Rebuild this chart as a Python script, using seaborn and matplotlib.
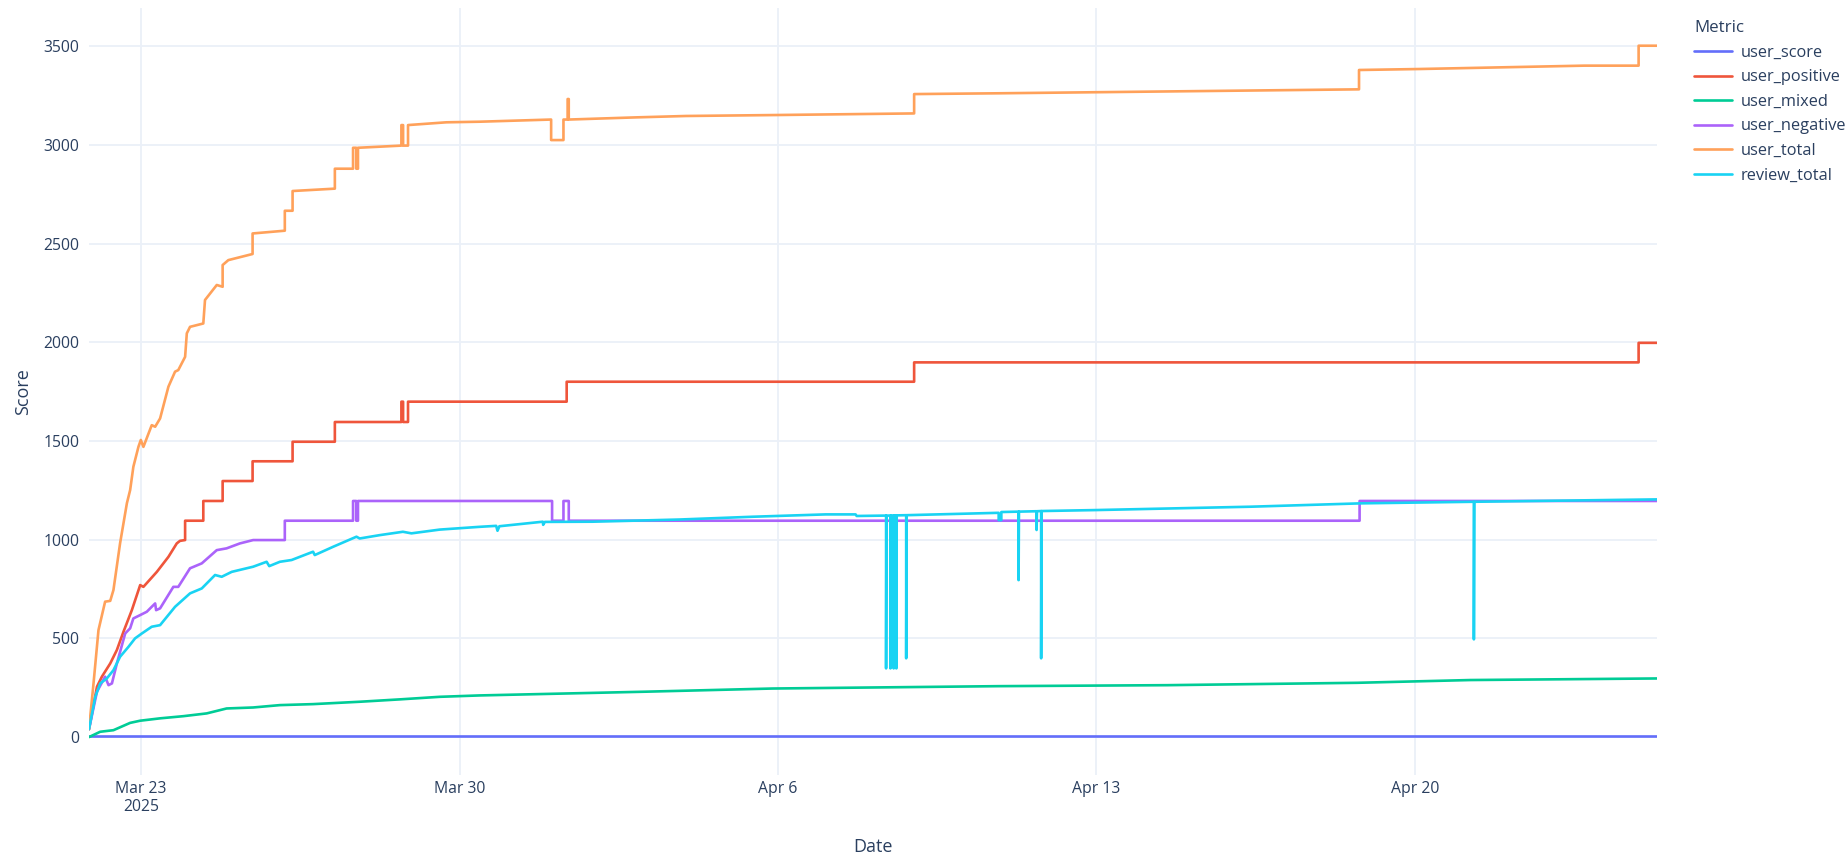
import numpy as np
import pandas as pd
import seaborn as sns
import matplotlib.pyplot as plt
import matplotlib.dates as mdates

# series (times in 2025, "MM-DD HH:MM")
metrics = ["user_score", "user_positive", "user_mixed", "user_negative", "user_total", "review_total"]
colors = ["#636efa", "#EF553B", "#00cc96", "#ab63fa", "#FFA15A", "#19d3f3"]

score_t = ["03-21 20:30", "04-25 07:42"]
score_v = [6, 6]

positive_t = ["03-21 20:30", "03-22 00:42", "03-22 03:18", "03-22 07:42", "03-22 11:12", "03-22 14:42",
              "03-22 19:06", "03-22 23:30", "03-23 01:12", "03-23 08:18", "03-23 14:24", "03-23 18:48",
              "03-23 20:30", "03-23 23:12", "03-23 23:12", "03-24 08:48", "03-24 08:48", "03-24 19:00",
              "03-24 19:00", "03-25 10:48", "03-25 10:48", "03-26 07:54", "03-26 07:54", "03-27 06:12",
              "03-27 06:12", "03-28 17:18", "03-28 17:18", "03-28 18:12", "03-28 18:12", "03-28 20:48",
              "03-28 20:48", "04-01 08:30", "04-01 08:30", "04-08 23:48", "04-08 23:48", "04-24 22:00",
              "04-24 22:00", "04-25 07:42"]
positive_v = [40, 255, 306, 373, 441, 534,
              643, 770, 761, 837, 913, 981,
              994, 998, 1096, 1096, 1196, 1196,
              1297, 1297, 1397, 1397, 1496, 1496,
              1596, 1596, 1699, 1699, 1596, 1596,
              1699, 1699, 1800, 1800, 1898, 1898,
              1997, 1997]

mixed_t = ["03-21 20:30", "03-22 02:24", "03-22 09:24", "03-22 18:12", "03-22 23:30", "03-23 10:00",
           "03-23 22:18", "03-24 10:36", "03-24 21:06", "03-25 11:06", "03-26 01:12", "03-26 18:42",
           "03-27 19:18", "03-28 16:24", "03-29 13:30", "03-30 10:30", "04-03 02:18", "04-05 21:00",
           "04-10 20:24", "04-14 13:24", "04-18 17:30", "04-21 05:18", "04-25 07:42"]
mixed_v = [0, 27, 35, 72, 83, 95,
           106, 120, 145, 150, 162, 167,
           179, 191, 204, 211, 230, 246,
           258, 263, 275, 289, 297]

negative_t = ["03-21 20:30", "03-22 00:42", "03-22 05:00", "03-22 06:48", "03-22 08:36", "03-22 11:12",
              "03-22 15:36", "03-22 18:12", "03-22 19:54", "03-22 23:30", "03-23 03:00", "03-23 05:36",
              "03-23 07:24", "03-23 07:54", "03-23 10:00", "03-23 17:00", "03-23 19:36", "03-24 01:48",
              "03-24 08:00", "03-24 15:54", "03-24 21:06", "03-25 04:06", "03-25 11:06", "03-26 03:48",
              "03-26 03:48", "03-27 15:48", "03-27 15:48", "03-27 17:30", "03-27 17:30", "03-27 18:24",
              "03-27 18:24", "04-01 00:48", "04-01 00:48", "04-01 06:48", "04-01 06:48", "04-01 09:36",
              "04-01 09:36", "04-18 18:48", "04-18 18:48", "04-25 07:42"]
negative_v = [40, 230, 306, 263, 272, 373,
              525, 551, 601, 618, 635, 660,
              677, 643, 652, 761, 761, 855,
              880, 947, 956, 981, 998, 998,
              1096, 1096, 1196, 1196, 1096, 1096,
              1196, 1196, 1096, 1096, 1196, 1196,
              1096, 1096, 1196, 1196]

total_t = ["03-21 20:30", "03-21 22:54", "03-22 01:30", "03-22 05:00", "03-22 07:42", "03-22 09:24",
           "03-22 12:54", "03-22 16:30", "03-22 18:12", "03-22 19:54", "03-22 22:36", "03-22 23:50",
           "03-23 01:12", "03-23 05:36", "03-23 07:24", "03-23 10:00", "03-23 14:24", "03-23 17:54",
           "03-23 19:36", "03-23 23:12", "03-24 00:06", "03-24 01:48", "03-24 08:48", "03-24 09:42",
           "03-24 15:54", "03-24 19:00", "03-24 19:00", "03-24 22:00", "03-25 10:48", "03-25 10:48",
           "03-26 03:48", "03-26 03:48", "03-26 07:54", "03-26 07:54", "03-27 06:12", "03-27 06:12",
           "03-27 15:48", "03-27 15:48", "03-27 17:30", "03-27 17:30", "03-27 18:24", "03-27 18:24",
           "03-28 17:18", "03-28 17:18", "03-28 18:12", "03-28 18:12", "03-28 20:48", "03-28 20:48",
           "03-29 17:00", "03-30 10:30", "04-01 00:18", "04-01 00:18", "04-01 06:48", "04-01 06:48",
           "04-01 09:00", "04-01 09:00", "04-01 09:36", "04-01 09:36", "04-02 21:06", "04-03 23:24",
           "04-06 00:00", "04-08 23:48", "04-08 23:48", "04-10 20:24", "04-18 18:30", "04-18 18:30",
           "04-20 02:36", "04-23 17:18", "04-24 22:00", "04-24 22:00", "04-25 07:42"]
total_v = [40, 273, 542, 686, 690, 745,
           982, 1185, 1251, 1369, 1471, 1505,
           1470, 1580, 1572, 1614, 1775, 1851,
           1859, 1926, 2045, 2078, 2095, 2214,
           2290, 2281, 2391, 2416, 2447, 2551,
           2565, 2666, 2666, 2766, 2778, 2879,
           2879, 2985, 2985, 2879, 2879, 2985,
           2996, 3100, 3100, 2996, 2996, 3100,
           3114, 3117, 3128, 3024, 3024, 3128,
           3128, 3232, 3232, 3128, 3139, 3146,
           3151, 3159, 3257, 3261, 3281, 3379,
           3384, 3401, 3401, 3502, 3502]

review_t = ["03-21 20:30", "03-21 23:48", "03-22 02:24", "03-22 05:54", "03-22 09:24", "03-22 12:54",
            "03-22 17:18", "03-22 20:48", "03-23 00:24", "03-23 05:36", "03-23 10:00", "03-23 17:54",
            "03-24 01:48", "03-24 08:00", "03-24 15:00", "03-24 18:30", "03-24 23:48", "03-25 11:06",
            "03-25 18:12", "03-25 19:36", "03-26 01:12", "03-26 07:24", "03-26 18:42", "03-26 19:36",
            "03-27 05:18", "03-27 17:36", "03-27 19:18", "03-28 05:54", "03-28 18:06", "03-28 22:36",
            "03-29 13:30", "03-30 10:30", "03-30 19:18", "03-30 20:00", "03-30 21:00", "03-31 19:54",
            "03-31 20:06", "03-31 21:00", "04-01 22:12", "04-03 19:54", "04-05 10:18", "04-07 01:06",
            "04-07 16:54", "04-07 17:30",
            "04-08 09:00", "04-08 09:00", "04-08 09:12",
            "04-08 11:18", "04-08 11:18", "04-08 11:30",
            "04-08 13:00", "04-08 13:00", "04-08 13:12",
            "04-08 14:24", "04-08 14:24", "04-08 14:36",
            "04-08 19:36", "04-08 19:36", "04-08 19:48",
            "04-10 20:24", "04-10 20:24", "04-10 21:48", "04-10 21:48",
            "04-11 06:54", "04-11 06:54", "04-11 07:06",
            "04-11 16:24", "04-11 16:24", "04-11 16:36",
            "04-11 18:48", "04-11 18:48", "04-11 19:00",
            "04-13 00:00", "04-16 09:36", "04-18 19:36",
            "04-21 07:06", "04-21 07:06", "04-21 07:18",
            "04-25 07:42"]
review_v = [40, 204, 272, 297, 339, 407,
            457, 500, 525, 559, 567, 660,
            728, 753, 821, 812, 837, 863,
            888, 866, 888, 897, 939, 922,
            964, 1015, 1006, 1023, 1040, 1032,
            1051, 1065, 1070, 1045, 1068, 1091,
            1075, 1090, 1091, 1102, 1116, 1128,
            1128, 1120,
            1122, 348, 1122,
            1122, 348, 1122,
            1123, 348, 1123,
            1123, 348, 1123,
            1124, 399, 1124,
            1136, 1099, 1099, 1140,
            1142, 795, 1142,
            1144, 1049, 1144,
            1145, 399, 1145,
            1150, 1167, 1184,
            1192, 495, 1192,
            1204]

series = {
    "user_score": (score_t, score_v),
    "user_positive": (positive_t, positive_v),
    "user_mixed": (mixed_t, mixed_v),
    "user_negative": (negative_t, negative_v),
    "user_total": (total_t, total_v),
    "review_total": (review_t, review_v),
}

frames = []
for name in metrics:
    t, v = series[name]
    frames.append(pd.DataFrame({"Date": pd.to_datetime(["2025-" + s for s in t]),
                                "Score": v, "Metric": name}))
df = pd.concat(frames, ignore_index=True)

sns.set_theme(style="white")
plt.rcParams["font.family"] = ["Open Sans", "DejaVu Sans"]
text_color = "#2a3f5f"
grid_color = "#EBF0F8"

fig = plt.figure(figsize=(18.49, 8.56), dpi=100)
ax = fig.add_axes([89 / 1849, 1 - 775 / 856, (1657 - 89) / 1849, (775 - 8) / 856])

sns.lineplot(data=df, x="Date", y="Score", hue="Metric", hue_order=metrics,
             palette=colors, estimator=None, sort=False, linewidth=1.9, ax=ax)

ax.set_xlim(pd.Timestamp("2025-03-21 20:30"), pd.Timestamp("2025-04-25 07:42"))
ax.set_ylim(-192, 3693)

ticks = pd.to_datetime(["2025-03-23", "2025-03-30", "2025-04-06", "2025-04-13", "2025-04-20"])
ax.set_xticks(ticks)
ax.set_xticklabels(["Mar 23\n2025", "Mar 30", "Apr 6", "Apr 13", "Apr 20"])
ax.set_yticks(np.arange(0, 3501, 500))
ax.tick_params(axis="both", length=0, labelsize=11.3, colors=text_color)
ax.tick_params(axis="x", pad=4)
ax.tick_params(axis="y", pad=7)

ax.grid(True, color=grid_color, linewidth=1.3)
ax.set_axisbelow(True)
for s in ax.spines.values():
    s.set_visible(False)

ax.set_xlabel("Date", fontsize=13, color=text_color)
ax.set_ylabel("Score", fontsize=13, color=text_color)
ax.xaxis.set_label_coords(0.5, -0.082)
ax.yaxis.set_label_coords(-0.036, 0.5)

handles, labels = ax.get_legend_handles_labels()
ax.legend(handles, labels, title="Metric", loc="upper left",
          bbox_to_anchor=(1682 / 1849, 1 - 8 / 856), bbox_transform=fig.transFigure,
          frameon=False, fontsize=11.8, title_fontsize=12.2, alignment="left",
          handlelength=2.3, handletextpad=0.55, labelspacing=0.52, borderpad=0.25,
          labelcolor=text_color)
ax.get_legend().get_title().set_color(text_color)

fig.savefig("out.png", dpi=100)
